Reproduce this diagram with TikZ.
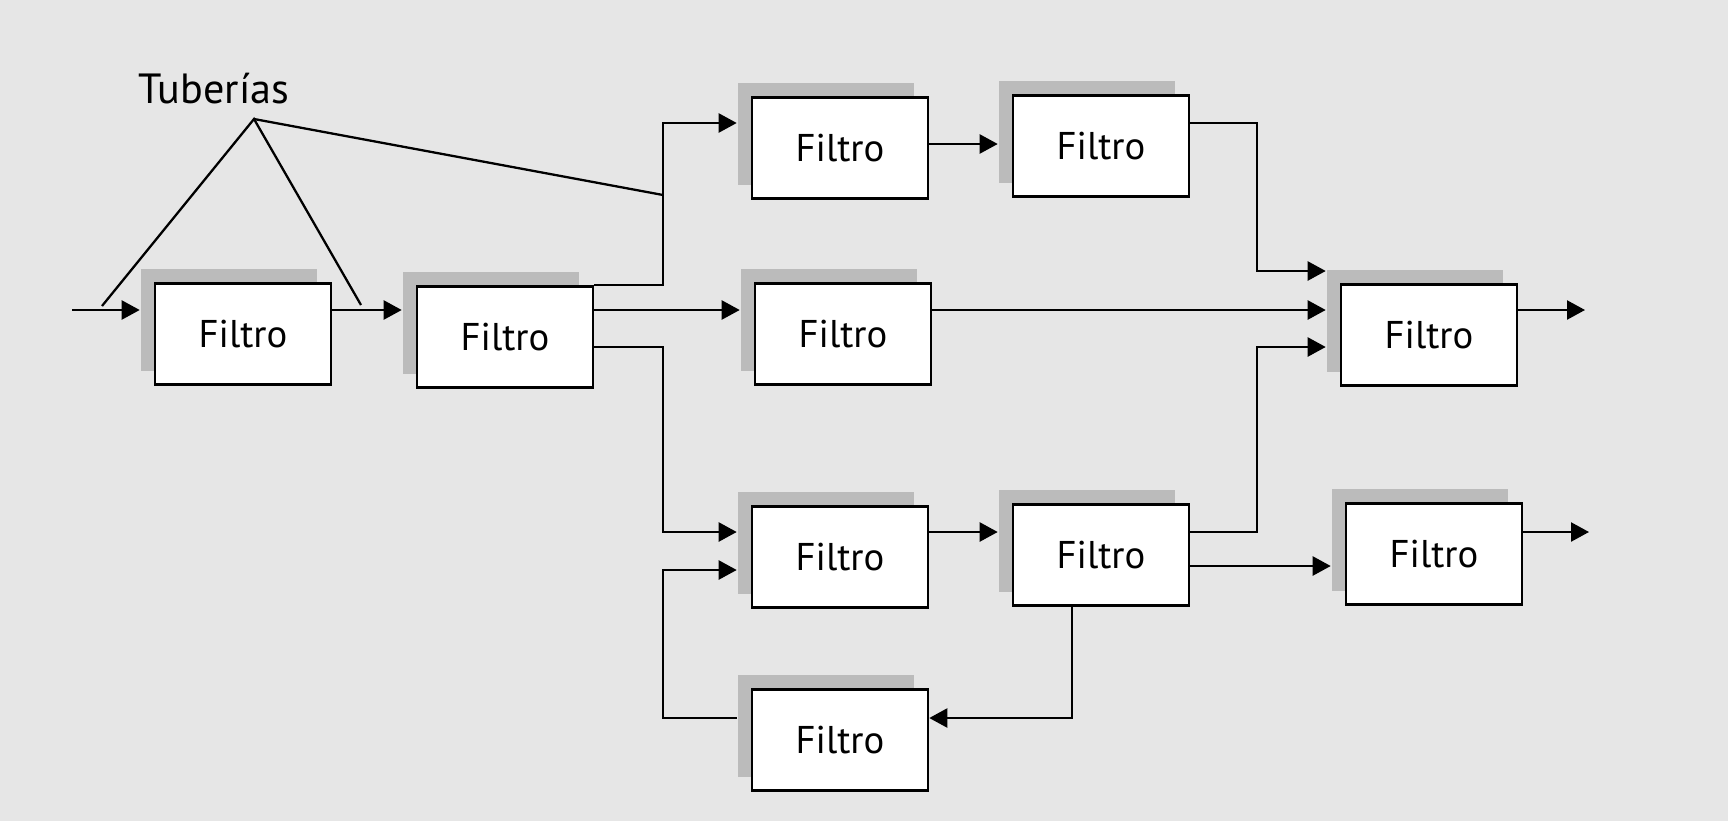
\documentclass[tikz,border=0pt]{standalone}
\usepackage{fontspec}
\setmainfont{PT Sans}
\usepackage{xcolor}
\usetikzlibrary{arrows.meta,shadows}
\definecolor{bg}{HTML}{E6E6E6}
\definecolor{shade}{HTML}{BBBBBB}
\tikzset{
  filtro/.style={draw,fill=white,line width=0.7pt,minimum width=1.76cm,minimum height=1.01cm,
    font=\fontsize{11}{13}\selectfont,
    general shadow={fill=shade,shadow xshift=-0.14cm,shadow yshift=0.14cm}},
  pipe/.style={->,line width=0.65pt},
  toshadow/.style={pipe,shorten >=0.14cm}
}
\begin{document}
\begin{tikzpicture}[x=0.01cm,y=-0.01cm,>={Triangle[length=0.18cm,width=0.19cm]}]
  \fill[bg] (0,0) rectangle (1728,821);
  % filters
  \node[filtro] (A) at (243,334) {Filtro};
  \node[filtro] (B) at (505,337) {Filtro};
  \node[filtro] (C) at (840,148) {Filtro};
  \node[filtro] (D) at (1101,146) {Filtro};
  \node[filtro] (E) at (843,334) {Filtro};
  \node[filtro] (F) at (1429,335) {Filtro};
  \node[filtro] (G) at (840,557) {Filtro};
  \node[filtro] (H) at (1101,555) {Filtro};
  \node[filtro] (I) at (1434,554) {Filtro};
  \node[filtro] (J) at (840,740) {Filtro};
  % rows and columns of the pipes
  \coordinate (r0) at (0,123);
  \coordinate (r1) at (0,144);
  \coordinate (r2) at (0,271);
  \coordinate (r3) at (0,310);
  \coordinate (r4) at (0,347);
  \coordinate (r5) at (0,532);
  \coordinate (r6) at (0,566);
  \coordinate (r7) at (0,570);
  \coordinate (r8) at (0,718);
  \coordinate (cL) at (663,0);
  \coordinate (cR) at (1257,0);
  \coordinate (cH) at (1072,0);
  \coordinate (in) at (72,310);
  \coordinate (outF) at (1585,310);
  \coordinate (outI) at (1589,532);
  \coordinate (Jsh) at ([xshift=-0.14cm]J.west);
  % pipes
  \draw[toshadow] (in) -- (A.west |- in);
  \draw[toshadow] (A.east |- r3) -- (B.west |- r3);
  \draw[toshadow] (B.north east) -| (cL |- r0) -- (C.west |- r0);
  \draw[toshadow] (B.east |- r3) -- (E.west |- r3);
  \draw[toshadow] (B.east |- r4) -| (cL |- r5) -- (G.west |- r5);
  \draw[toshadow] (C.east |- r1) -- (D.west |- r1);
  \draw[toshadow] (D.east |- r0) -| (cR |- r2) -- (F.west |- r2);
  \draw[toshadow] (E.east |- r3) -- (F.west |- r3);
  \draw[toshadow] (H.east |- r5) -| (cR |- r4) -- (F.west |- r4);
  \draw[pipe] (F.east |- outF) -- (outF);
  \draw[toshadow] (G.east |- r5) -- (H.west |- r5);
  \draw[toshadow] (H.east |- r6) -- (I.west |- r6);
  \draw[pipe] (I.east |- outI) -- (outI);
  \draw[pipe] (cH |- H.south) |- (J.east |- r8);
  \draw[toshadow] (Jsh |- r8) -| (cL |- r7) -- (G.west |- r7);
  % label
  \node[anchor=base,font=\fontsize{12}{14}\selectfont] (tub) at (214,103) {Tuberías};
  \coordinate (apex) at (254,119);
  \coordinate (t1) at (102,306);
  \coordinate (t2) at (361,305);
  \coordinate (t3) at (663,195);
  \draw[line width=0.65pt] (t1) -- (apex) -- (t2);
  \draw[line width=0.65pt] (apex) -- (t3);
\end{tikzpicture}
\end{document}
